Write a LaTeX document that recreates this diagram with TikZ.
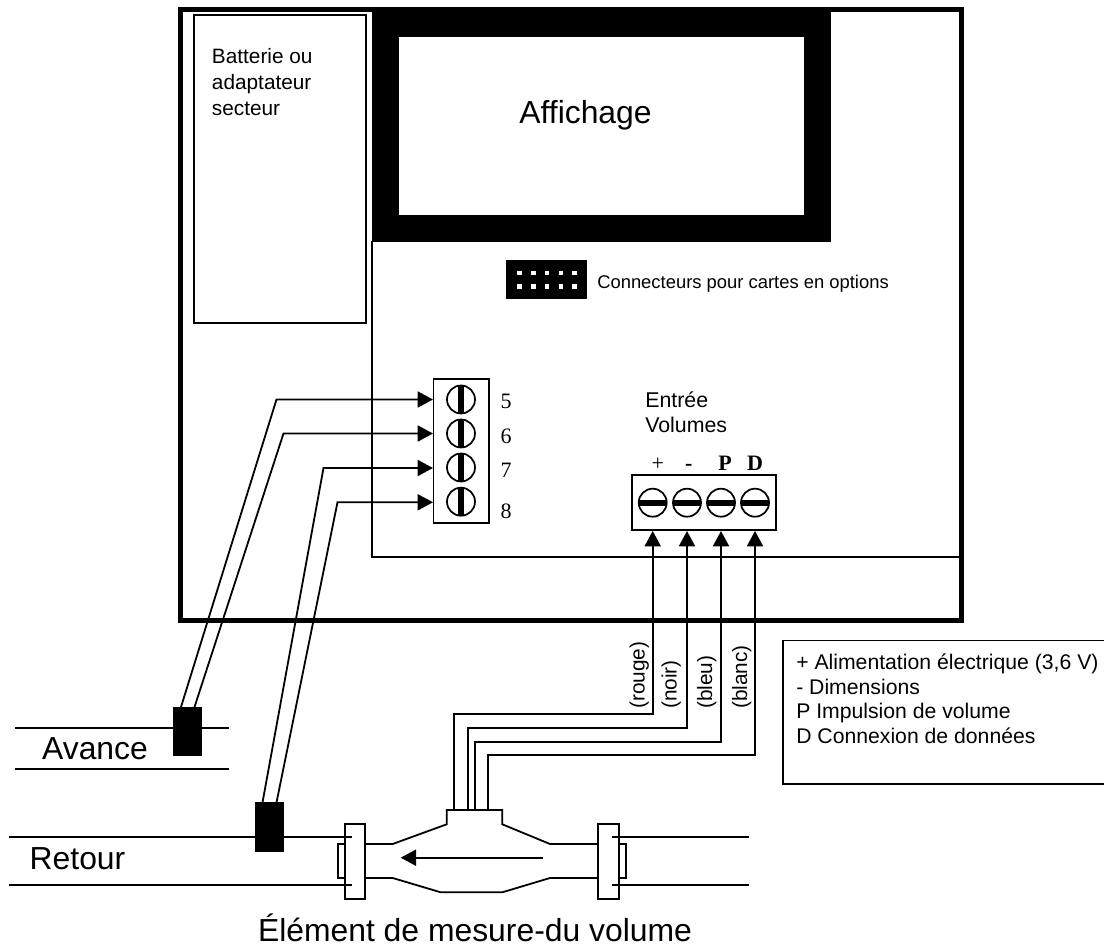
\documentclass[tikz,border=0pt]{standalone}
\usepackage{fontspec}
\setmainfont{Liberation Sans}
\newfontfamily\serifnum{Liberation Serif}
\usetikzlibrary{arrows.meta}
\tikzset{
  x=0.75pt,y=-0.75pt,
  thin line/.style={line width=1.3pt,line cap=butt},
  wire/.style={line width=1.35pt,line join=miter},
  tipped/.style={wire,-{Triangle[length=11.5pt,width=12pt]}},
  blackbox/.style={fill=black,draw=none},
  screwv/.style={circle,draw,line width=1.3pt,minimum size=21pt,inner sep=0pt,
    path picture={\fill[black] ([xshift=-2.2pt]path picture bounding box.north) rectangle ([xshift=2.2pt]path picture bounding box.south);}},
  screwh/.style={circle,draw,line width=1.3pt,minimum size=21pt,inner sep=0pt,
    path picture={\fill[black] ([yshift=-2.2pt]path picture bounding box.west) rectangle ([yshift=2.2pt]path picture bounding box.east);}},
  txt/.style={inner sep=0pt,anchor=base west,align=left},
  wirelabel/.style={inner sep=0pt,rotate=90,anchor=base west,font=\fontsize{15.6}{18}\selectfont},
  num/.style={inner sep=0pt,anchor=base,font=\serifnum\fontsize{16.5}{18}\selectfont},
  boldnum/.style={inner sep=0pt,anchor=base,font=\serifnum\bfseries\fontsize{16.5}{18}\selectfont},
  big/.style={inner sep=0pt,anchor=base,font=\fontsize{23.9}{28}\selectfont},
}
\begin{document}
\begin{tikzpicture}
\useasboundingbox (0,0) rectangle (1104,948);
% housing
\draw[line width=3.75pt] (180.7,9.5) rectangle (961,620);
% display
\path[blackbox] (372,9) rectangle (830.5,241.7);
\fill[white] (399,36.7) rectangle (803.7,215);
\node[big] (affichage) at (585.5,124) {Affichage};
% battery
\draw[thin line] (194,15) rectangle (366,322.7);
\node[txt,font=\fontsize{15.6}{19.5}\selectfont] (batterie) at (211.7,63.3) {Batterie ou};
\node[txt,font=\fontsize{15.6}{19.5}\selectfont] (batterie2) at (211.7,89.3) {adaptateur};
\node[txt,font=\fontsize{15.6}{19.5}\selectfont] (batterie3) at (211.7,115.5) {secteur};
% inner divider
\draw[thin line] (372,241) -- (372,557) -- (960,557);
% option connector
\path[blackbox] (506,260.5) rectangle (587,299.5);
\foreach \x in {519.3,533.3,547,560.7,574.3}
  \foreach \y in {273.3,286.7}
    \fill[white] (\x-2.2,\y-2.2) rectangle (\x+2.2,\y+2.2);
\node[txt,font=\fontsize{13.8}{16}\selectfont] (options) at (597,288.5) {Connecteurs pour cartes en options};
% terminal block 5-8
\draw[thin line,fill=white] (433.5,379) rectangle (489,523);
\node[screwv] (s5) at (461,399.5) {};
\node[screwv] (s6) at (461,433.5) {};
\node[screwv] (s7) at (461,467.5) {};
\node[screwv] (s8) at (461,501.7) {};
\node[num] (n5) at (506,408.5) {5};
\node[num] (n6) at (506,443.5) {6};
\node[num] (n7) at (506,477.5) {7};
\node[num] (n8) at (506,518.5) {8};
% terminal block volumes
\draw[thin line,fill=white] (632,475) rectangle (776,530);
\node[screwh] (a) at (652.7,502.7) {};
\node[screwh] (b) at (687,502.7) {};
\node[screwh] (c) at (721,502.7) {};
\node[screwh] (d) at (755,502.7) {};
\node[txt,font=\fontsize{16}{19}\selectfont] (entree) at (645,407.7) {Entrée};
\node[txt,font=\fontsize{16}{19}\selectfont] (volumes) at (645,432.7) {Volumes};
\node[num] (lp) at (657.7,471) {+};
\node[boldnum] (lm) at (688.7,471) {-};
\node[boldnum] (lP) at (725,471) {P};
\node[boldnum] (lD) at (755,471) {D};
% sensors
\coordinate (k5) at (181,707); \coordinate (k6) at (194.5,707);
\coordinate (k7) at (262.5,802.5); \coordinate (k8) at (276.5,802.5);
\draw[tipped] (k5) -- (276.5,399.5) -- (433,399.5);
\draw[tipped] (k6) -- (283.5,433.5) -- (433,433.5);
\draw[tipped] (k7) -- (323.5,468) -- (433,468);
\draw[tipped] (k8) -- (337.5,502.3) -- (433,502.3);
\draw[wire] (15.3,727.7) -- (229,727.7);
\draw[wire] (15.3,768.7) -- (229,768.7);
\path[blackbox] (172.7,706.7) rectangle (202,756);
\node[big] (avance) at (95,759.3) {Avance};
\draw[wire] (8.7,837) -- (352,837);
\draw[wire] (8.7,885) -- (352,885);
\path[blackbox] (255,802.3) rectangle (284,852);
\node[big] (retour) at (77.5,869) {Retour};
% meter
\coordinate (ma) at (454.3,810); \coordinate (mb) at (468,810);
\coordinate (mc) at (474.7,810); \coordinate (md) at (488,810);
\draw[tipped] (ma) -- (454.3,714.3) -- (652.7,714.3) -- (652.7,531);
\draw[tipped] (mb) -- (468,727.7) -- (687,727.7) -- (687,531);
\draw[tipped] (mc) -- (474.7,741.7) -- (721,741.7) -- (721,531);
\draw[tipped] (md) -- (488,755) -- (755,755) -- (755,531);
\draw[wire,fill=white] (344.7,824) rectangle (365.3,899.3);
\draw[wire] (344.7,844) -- (337.7,844) -- (337.7,878.3) -- (344.7,878.3);
\draw[wire] (619,844) -- (626,844) -- (626,878.3) -- (619,878.3);
\draw[wire,fill=white] (597.7,824) rectangle (619,899.3);
\draw[wire] (344.7,837) -- (352,837);
\draw[wire] (344.7,885) -- (352,885);
\draw[wire] (611.7,837) -- (749,837);
\draw[wire] (611.7,885) -- (749,885);
\draw[wire] (365.3,844) -- (392.7,844) -- (446.7,824.3) -- (446.7,810) -- (502.3,810) -- (502.3,824.3) -- (550,844) -- (597.7,844);
\draw[wire] (365.3,878) -- (392.7,878) -- (440.7,892.3) -- (502.3,892.3) -- (550,878) -- (597.7,878);
\coordinate (fs) at (543.3,857.7); \coordinate (fe) at (400.7,857.7);
\draw[tipped] (fs) -- (fe);
% wire labels
\node[wirelabel] (rouge) at (644.5,709) {(rouge)};
\node[wirelabel] (noir) at (676.5,709) {(noir)};
\node[wirelabel] (bleu) at (712,709) {(bleu)};
\node[wirelabel] (blanc) at (747,709) {(blanc)};
% legend
\draw[thin line] (783.3,640.5) rectangle (1110,784);
\node[txt,font=\fontsize{15.9}{18.5}\selectfont] (legend1) at (796,669.3) {+ Alimentation électrique (3,6 V)};
\node[txt,font=\fontsize{15.9}{18.5}\selectfont] (legend2) at (796,694.3) {- Dimensions};
\node[txt,font=\fontsize{15.9}{18.5}\selectfont] (legend3) at (796,718.6) {P Impulsion de volume};
\node[txt,font=\fontsize{15.9}{18.5}\selectfont] (legend4) at (796,743.3) {D Connexion de données};
\node[big] (titre) at (475,941) {Élément de mesure-du volume};
\end{tikzpicture}
\end{document}
